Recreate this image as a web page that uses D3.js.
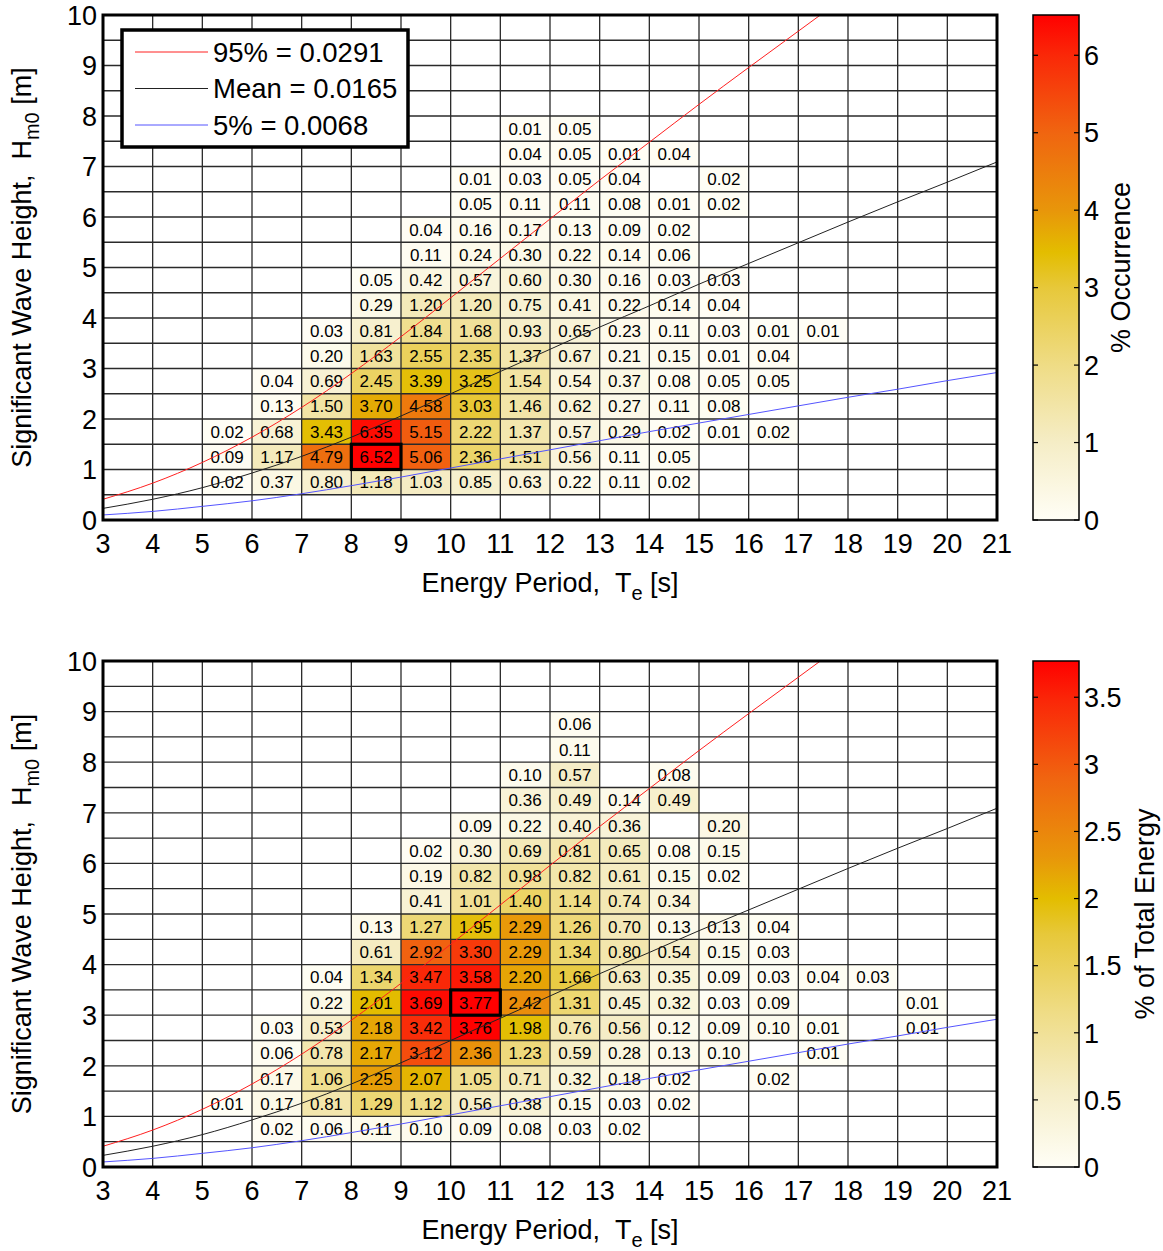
<!DOCTYPE html>
<html><head><meta charset="utf-8">
<script src="https://cdn.jsdelivr.net/npm/d3@7"></script>
<style>
body{margin:0;background:#fff}
text{font-family:"Liberation Sans",Arial,Helvetica,sans-serif;fill:#000}
</style>
</head><body>
<svg id="chart" width="1163" height="1251"></svg>
<script>
const _ = null;
// Energy period bins (lower edge, s) and wave height bins (lower edge, m)
const periodBins = [3,4,5,6,7,8,9,10,11,12,13,14,15,16,17,18,19,20];
const heightBins = [0.5,1.0,1.5,2.0,2.5,3.0,3.5,4.0,4.5,5.0,5.5,6.0,6.5,7.0,7.5,8.0,8.5];
const xTicks = [3,4,5,6,7,8,9,10,11,12,13,14,15,16,17,18,19,20,21];
const yTicks = [0,1,2,3,4,5,6,7,8,9,10];

// % occurrence (rows follow heightBins, columns follow periodBins)
const occurrence = [
  [_,_,0.02,0.37,0.80,1.18,1.03,0.85,0.63,0.22,0.11,0.02,_,_,_,_,_,_],
  [_,_,0.09,1.17,4.79,6.52,5.06,2.36,1.51,0.56,0.11,0.05,_,_,_,_,_,_],
  [_,_,0.02,0.68,3.43,6.35,5.15,2.22,1.37,0.57,0.29,0.02,0.01,0.02,_,_,_,_],
  [_,_,_,0.13,1.50,3.70,4.58,3.03,1.46,0.62,0.27,0.11,0.08,_,_,_,_,_],
  [_,_,_,0.04,0.69,2.45,3.39,3.25,1.54,0.54,0.37,0.08,0.05,0.05,_,_,_,_],
  [_,_,_,_,0.20,1.63,2.55,2.35,1.37,0.67,0.21,0.15,0.01,0.04,_,_,_,_],
  [_,_,_,_,0.03,0.81,1.84,1.68,0.93,0.65,0.23,0.11,0.03,0.01,0.01,_,_,_],
  [_,_,_,_,_,0.29,1.20,1.20,0.75,0.41,0.22,0.14,0.04,_,_,_,_,_],
  [_,_,_,_,_,0.05,0.42,0.57,0.60,0.30,0.16,0.03,0.03,_,_,_,_,_],
  [_,_,_,_,_,_,0.11,0.24,0.30,0.22,0.14,0.06,_,_,_,_,_,_],
  [_,_,_,_,_,_,0.04,0.16,0.17,0.13,0.09,0.02,_,_,_,_,_,_],
  [_,_,_,_,_,_,_,0.05,0.11,0.11,0.08,0.01,0.02,_,_,_,_,_],
  [_,_,_,_,_,_,_,0.01,0.03,0.05,0.04,_,0.02,_,_,_,_,_],
  [_,_,_,_,_,_,_,_,0.04,0.05,0.01,0.04,_,_,_,_,_,_],
  [_,_,_,_,_,_,_,_,0.01,0.05,_,_,_,_,_,_,_,_],
  [_,_,_,_,_,_,_,_,_,_,_,_,_,_,_,_,_,_],
  [_,_,_,_,_,_,_,_,_,_,_,_,_,_,_,_,_,_]
];

// % of total energy
const energy = [
  [_,_,_,0.02,0.06,0.11,0.10,0.09,0.08,0.03,0.02,_,_,_,_,_,_,_],
  [_,_,0.01,0.17,0.81,1.29,1.12,0.56,0.38,0.15,0.03,0.02,_,_,_,_,_,_],
  [_,_,_,0.17,1.06,2.25,2.07,1.05,0.71,0.32,0.18,0.02,_,0.02,_,_,_,_],
  [_,_,_,0.06,0.78,2.17,3.12,2.36,1.23,0.59,0.28,0.13,0.10,_,0.01,_,_,_],
  [_,_,_,0.03,0.53,2.18,3.42,3.76,1.98,0.76,0.56,0.12,0.09,0.10,0.01,_,0.01,_],
  [_,_,_,_,0.22,2.01,3.69,3.77,2.42,1.31,0.45,0.32,0.03,0.09,_,_,0.01,_],
  [_,_,_,_,0.04,1.34,3.47,3.58,2.20,1.66,0.63,0.35,0.09,0.03,0.04,0.03,_,_],
  [_,_,_,_,_,0.61,2.92,3.30,2.29,1.34,0.80,0.54,0.15,0.03,_,_,_,_],
  [_,_,_,_,_,0.13,1.27,1.95,2.29,1.26,0.70,0.13,0.13,0.04,_,_,_,_],
  [_,_,_,_,_,_,0.41,1.01,1.40,1.14,0.74,0.34,_,_,_,_,_,_],
  [_,_,_,_,_,_,0.19,0.82,0.98,0.82,0.61,0.15,0.02,_,_,_,_,_],
  [_,_,_,_,_,_,0.02,0.30,0.69,0.81,0.65,0.08,0.15,_,_,_,_,_],
  [_,_,_,_,_,_,_,0.09,0.22,0.40,0.36,_,0.20,_,_,_,_,_],
  [_,_,_,_,_,_,_,_,0.36,0.49,0.14,0.49,_,_,_,_,_,_],
  [_,_,_,_,_,_,_,_,0.10,0.57,_,0.08,_,_,_,_,_,_],
  [_,_,_,_,_,_,_,_,_,0.11,_,_,_,_,_,_,_,_],
  [_,_,_,_,_,_,_,_,_,0.06,_,_,_,_,_,_,_,_]
];

// Steepness curves (Hm0 at each period)
const curvePeriods = [3,4,5,6,7,8,9,10,11,12,13,14,15,16,17,18,19,20,21];
const h95  = [0.41,0.73,1.14,1.64,2.23,2.90,3.63,4.40,5.18,5.96,6.73,7.48,8.23,8.96,9.68,10.40,11.10,11.81,12.50];
const hMean= [0.23,0.41,0.64,0.93,1.26,1.64,2.06,2.50,2.94,3.38,3.82,4.24,4.67,5.08,5.49,5.90,6.30,6.69,7.09];
const h5   = [0.10,0.17,0.27,0.38,0.52,0.68,0.85,1.03,1.21,1.39,1.57,1.75,1.92,2.09,2.26,2.43,2.59,2.76,2.92];
const legendLabels = ["95% = 0.0291","Mean = 0.0165","5% = 0.0068"];
const occTicks = [0,1,2,3,4,5,6];
const energyTicks = [0,0.5,1,1.5,2,2.5,3,3.5];

const cmapStops = [
  [0,'#FFFEF6'],[0.153,'#F5EDC6'],[0.307,'#EFDC85'],[0.46,'#E7C83A'],
  [0.53,'#E3BD00'],[0.613,'#E8960A'],[0.767,'#F06510'],[0.92,'#FA2808'],[1,'#FF0000']
];

const svg = d3.select('#chart');
svg.append('rect').attr('width',1163).attr('height',1251).attr('fill','#fff');
const x = d3.scaleLinear().domain([3,21]).range([103,997]);
const defs = svg.append('defs');

function panel(cfg){
  const {data, y, ticks, cbLabel, cbLabelX, id, showLegend} = cfg;
  const max = d3.max(data.flat().filter(v=>v!=null));
  const color = d3.scaleLinear().domain(cmapStops.map(s=>s[0]*max)).range(cmapStops.map(s=>s[1])).interpolate(d3.interpolateRgb);
  const g = svg.append('g');
  const left = x(3), right = x(21), top = y(10), bottom = y(0);

  defs.append('clipPath').attr('id','clip'+id).append('rect')
    .attr('x',left).attr('y',top).attr('width',right-left).attr('height',bottom-top);

  const cells = [];
  data.forEach((row,i)=>row.forEach((v,j)=>{ if(v!=null) cells.push({t:periodBins[j],h:heightBins[i],v}); }));

  g.selectAll('rect.cell').data(cells).enter().append('rect')
    .attr('x',d=>x(d.t)).attr('y',d=>y(d.h+0.5))
    .attr('width',d=>x(d.t+1)-x(d.t)).attr('height',d=>y(d.h)-y(d.h+0.5))
    .attr('fill',d=>color(d.v));

  // grid
  const vg = d3.range(4,21,1), hg = d3.range(0.5,10,0.5);
  g.selectAll('line.vg').data(vg).enter().append('line')
    .attr('x1',d=>x(d)).attr('x2',d=>x(d)).attr('y1',top).attr('y2',bottom)
    .attr('stroke','#2a2a2a').attr('stroke-width',1.3);
  g.selectAll('line.hg').data(hg).enter().append('line')
    .attr('y1',d=>y(d)).attr('y2',d=>y(d)).attr('x1',left).attr('x2',right)
    .attr('stroke','#2a2a2a').attr('stroke-width',1.3);

  // cell labels
  g.selectAll('text.cv').data(cells).enter().append('text')
    .attr('x',d=>x(d.t+0.5)).attr('y',d=>y(d.h+0.25)).attr('dy','0.36em')
    .attr('text-anchor','middle').attr('font-size',17)
    .text(d=>d.v.toFixed(2));

  // curves
  const line = d3.line().x(d=>x(d[0])).y(d=>y(d[1])).curve(d3.curveMonotoneX);
  const cg = g.append('g').attr('clip-path','url(#clip'+id+')');
  [[h95,'#FF2020'],[hMean,'#222'],[h5,'#5555FF']].forEach(([arr,c])=>{
    cg.append('path').attr('d',line(curvePeriods.map((t,i)=>[t,arr[i]])))
      .attr('fill','none').attr('stroke',c).attr('stroke-width',1);
  });

  // highlight max cell
  const mc = cells.find(d=>d.v===max);
  g.append('rect').attr('x',x(mc.t)).attr('y',y(mc.h+0.5))
    .attr('width',x(mc.t+1)-x(mc.t)).attr('height',y(mc.h)-y(mc.h+0.5))
    .attr('fill','none').attr('stroke','#000').attr('stroke-width',3.2);

  // frame
  g.append('rect').attr('x',left).attr('y',top).attr('width',right-left).attr('height',bottom-top)
    .attr('fill','none').attr('stroke','#000').attr('stroke-width',3);

  // tick labels
  g.selectAll('text.xt').data(xTicks).enter().append('text')
    .attr('x',d=>x(d)).attr('y',bottom+33).attr('text-anchor','middle').attr('font-size',27).text(d=>d);
  g.selectAll('text.yt').data(yTicks).enter().append('text')
    .attr('x',left-6).attr('y',d=>y(d)).attr('dy','0.36em').attr('text-anchor','end').attr('font-size',27).text(d=>d);

  // axis titles
  const xt = g.append('text').attr('x',(left+right)/2).attr('y',bottom+72).attr('text-anchor','middle').attr('font-size',27);
  xt.append('tspan').text('Energy Period,\u00a0\u00a0T');
  xt.append('tspan').attr('font-size',20).attr('dy',8).text('e');
  xt.append('tspan').attr('dy',-8).text('\u00a0[s]');
  const yt = g.append('text').attr('transform',`translate(31,${(top+bottom)/2}) rotate(-90)`).attr('text-anchor','middle').attr('font-size',27);
  yt.append('tspan').text('Significant Wave Height,\u00a0\u00a0H');
  yt.append('tspan').attr('font-size',20).attr('dy',8).text('m0');
  yt.append('tspan').attr('dy',-8).text('\u00a0[m]');

  // colorbar
  const cbL = 1033, cbR = 1079;
  const cy = d3.scaleLinear().domain([0,max]).range([bottom,top]);
  const grad = defs.append('linearGradient').attr('id','grad'+id).attr('x1',0).attr('x2',0).attr('y1',1).attr('y2',0);
  cmapStops.forEach(s=>grad.append('stop').attr('offset',s[0]).attr('stop-color',s[1]));
  g.append('rect').attr('x',cbL).attr('y',top).attr('width',cbR-cbL).attr('height',bottom-top)
    .attr('fill','url(#grad'+id+')').attr('stroke','#000').attr('stroke-width',1.5);
  ticks.forEach(t=>{
    g.append('line').attr('x1',cbL).attr('x2',cbL+5).attr('y1',cy(t)).attr('y2',cy(t)).attr('stroke','#000').attr('stroke-width',1.2);
    g.append('line').attr('x1',cbR-5).attr('x2',cbR).attr('y1',cy(t)).attr('y2',cy(t)).attr('stroke','#000').attr('stroke-width',1.2);
  });
  g.selectAll('text.ct').data(ticks).enter().append('text')
    .attr('x',cbR+5).attr('y',d=>cy(d)).attr('dy','0.36em').attr('font-size',27).text(d=>d);
  g.append('text').attr('transform',`translate(${cbLabelX},${(top+bottom)/2}) rotate(-90)`)
    .attr('text-anchor','middle').attr('font-size',27).text(cbLabel);

  if(showLegend){
    const lg = g.append('g');
    lg.append('rect').attr('x',122).attr('y',30).attr('width',286).attr('height',117)
      .attr('fill','#fff').attr('stroke','#000').attr('stroke-width',3.5);
    const cols = ['#FF2020','#222','#5555FF'];
    legendLabels.forEach((lab,i)=>{
      const yy = 52 + i*36.5;
      lg.append('line').attr('x1',135).attr('x2',208).attr('y1',yy).attr('y2',yy).attr('stroke',cols[i]).attr('stroke-width',1);
      lg.append('text').attr('x',213).attr('y',yy).attr('dy','0.36em').attr('font-size',27.5).text(lab);
    });
  }
}

panel({data:occurrence, y:d3.scaleLinear().domain([0,10]).range([520,15]), ticks:occTicks,
  cbLabel:'% Occurrence', cbLabelX:1130, id:'a', showLegend:true});
panel({data:energy, y:d3.scaleLinear().domain([0,10]).range([1167,661]), ticks:energyTicks,
  cbLabel:'% of Total Energy', cbLabelX:1154, id:'b', showLegend:false});
</script>
</body></html>
